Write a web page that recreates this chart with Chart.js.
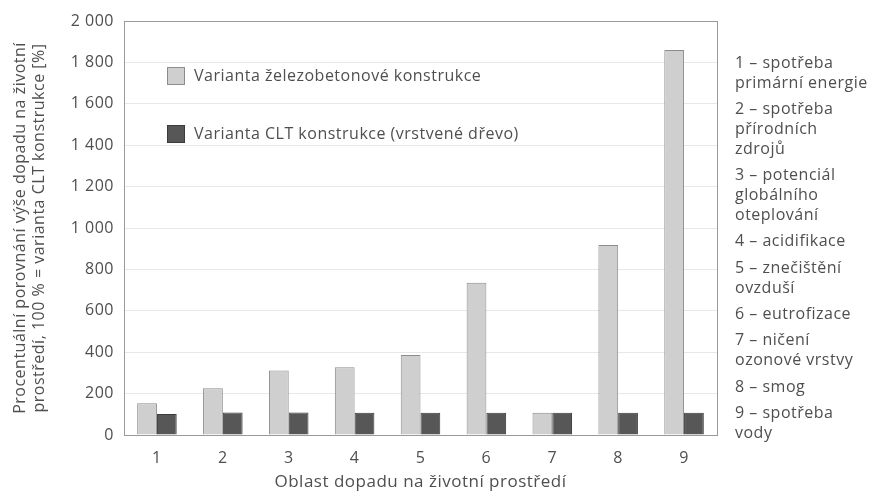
<!DOCTYPE html>
<html lang="cs">
<head>
<meta charset="utf-8">
<script src="https://cdn.jsdelivr.net/npm/chart.js@4/dist/chart.umd.min.js"></script>
<style>
  html, body { margin: 0; padding: 0; background: #ffffff; }
  #wrap { width: 871px; height: 493px; }
</style>
</head>
<body>
<div id="wrap"><canvas id="c" width="871" height="493"></canvas></div>
<script>
// Oblasti dopadu (osa x)
const categories = ['1', '2', '3', '4', '5', '6', '7', '8', '9'];

// Procentuální výše dopadu, 100 % = varianta CLT
const concreteValues = [153, 226, 311, 327, 386, 736, 108, 918, 1860];
const cltValues = [101, 109, 109, 108, 108, 108, 108, 108, 108];

const seriesLabels = [
  'Varianta železobetonové konstrukce',
  'Varianta CLT konstrukce (vrstvené dřevo)'
];

const yTitle = [
  'Procentuální porovnání výše dopadu na životní',
  'prostředí, 100 % = varianta CLT konstrukce [%]'
];
const xTitle = 'Oblast dopadu na životní prostředí';

// Popis oblastí vpravo od grafu (každá skupina = jedna oblast)
const areaNotes = [
  ['1 – spotřeba', 'primární energie'],
  ['2 – spotřeba', 'přírodních', 'zdrojů'],
  ['3 – potenciál', 'globálního', 'oteplování'],
  ['4 – acidifikace'],
  ['5 – znečištění', 'ovzduší'],
  ['6 – eutrofizace'],
  ['7 – ničení', 'ozonové vrstvy'],
  ['8 – smog'],
  ['9 – spotřeba', 'vody']
];

const FONT = '"Open Sans", "DejaVu Sans", sans-serif';
const SIZE = 16;
const TEXT = '#4f4f4f';

// Mírně prostrkané písmo pro všechny texty grafu
const spacing = {
  id: 'spacing',
  beforeUpdate(chart) { chart.ctx.letterSpacing = '0.5px'; },
  beforeDraw(chart) { chart.ctx.letterSpacing = '0.5px'; }
};

// Rámeček kolem plochy grafu
const frame = {
  id: 'frame',
  afterDatasetsDraw(chart) {
    const { ctx, chartArea: a } = chart;
    ctx.save();
    ctx.strokeStyle = '#9a9a9a';
    ctx.lineWidth = 1;
    ctx.strokeRect(Math.round(a.left) + 0.5, Math.round(a.top) + 0.5,
                   Math.round(a.right - a.left), Math.round(a.bottom - a.top));
    ctx.restore();
  }
};

// Legenda uvnitř plochy grafu
const innerLegend = {
  id: 'innerLegend',
  afterDraw(chart) {
    const { ctx, chartArea: a } = chart;
    ctx.save();
    ctx.font = SIZE + 'px ' + FONT;
    ctx.textBaseline = 'middle';
    chart.data.datasets.forEach((ds, i) => {
      const y = a.top + 55 + i * 58;
      const x = a.left + 43;
      ctx.fillStyle = ds.backgroundColor;
      ctx.fillRect(x, y - 9, 18, 18);
      ctx.strokeStyle = ds.borderColor;
      ctx.lineWidth = 1;
      ctx.strokeRect(x + 0.5, y - 8.5, 17, 17);
      ctx.fillStyle = TEXT;
      ctx.fillText(ds.label, x + 27, y);
    });
    ctx.restore();
  }
};

// Vysvětlivky oblastí vpravo
const notes = {
  id: 'notes',
  afterDraw(chart) {
    const { ctx, chartArea: a } = chart;
    ctx.save();
    ctx.font = SIZE + 'px ' + FONT;
    ctx.fillStyle = TEXT;
    ctx.textBaseline = 'middle';
    let y = a.top + 42;
    const x = a.right + 18;
    areaNotes.forEach(group => {
      group.forEach(line => {
        ctx.fillText(line, x, y);
        y += 20;
      });
      y += 6.3;
    });
    ctx.restore();
  }
};

new Chart(document.getElementById('c'), {
  type: 'bar',
  data: {
    labels: categories,
    datasets: [
      {
        label: seriesLabels[0],
        data: concreteValues,
        backgroundColor: '#cfcfcf',
        borderColor: '#8c8c8c',
        borderWidth: 1
      },
      {
        label: seriesLabels[1],
        data: cltValues,
        backgroundColor: '#575757',
        borderColor: '#3a3a3a',
        borderWidth: 1
      }
    ]
  },
  options: {
    responsive: false,
    animation: false,
    devicePixelRatio: 1,
    layout: { padding: { top: 21, right: 154, bottom: 0, left: 0 } },
    datasets: { bar: { categoryPercentage: 0.6, barPercentage: 1.0 } },
    plugins: {
      legend: { display: false },
      tooltip: { enabled: false }
    },
    scales: {
      x: {
        grid: { display: false, drawTicks: false },
        border: { display: true, color: '#9a9a9a' },
        ticks: { color: TEXT, font: { family: FONT, size: SIZE }, padding: 14 },
        title: {
          display: true, text: xTitle, color: TEXT,
          font: { family: FONT, size: 17 }, padding: { top: 2, bottom: 1 }
        },
        afterFit(scale) { scale.height = 58; }
      },
      y: {
        min: 0, max: 2000,
        grid: { color: '#e8e8e8', drawTicks: false },
        border: { display: true, color: '#9a9a9a' },
        ticks: {
          stepSize: 200,
          color: TEXT,
          font: { family: FONT, size: SIZE },
          padding: 10,
          callback: v => String(v).replace(/\B(?=(\d{3})+(?!\d))/g, ' ')
        },
        title: {
          display: true, text: yTitle, color: TEXT,
          font: { family: FONT, size: SIZE, lineHeight: 1.2 },
          padding: { top: 11, bottom: 0 }
        },
        afterFit(scale) { scale.width = 124; }
      }
    }
  },
  plugins: [spacing, frame, innerLegend, notes]
});
</script>
</body>
</html>
